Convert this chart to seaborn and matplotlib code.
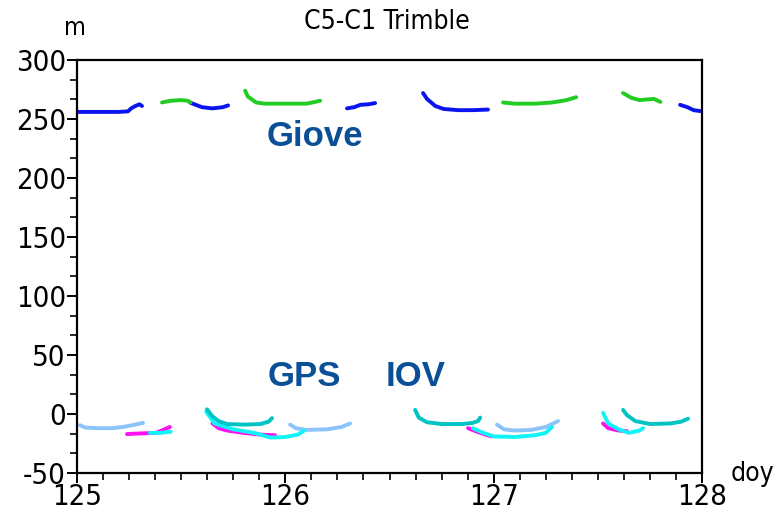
import numpy as np
import pandas as pd
import matplotlib
matplotlib.use("Agg")
import matplotlib.pyplot as plt
import seaborn as sns
from matplotlib.ticker import MultipleLocator

# ---------------- data (doy, metres, segment id) ----------------
giove_blue_doy = [125.0, 125.2, 125.245, 125.26, 125.28, 125.30, 125.312,
                  125.542, 125.57, 125.60, 125.65, 125.70, 125.725,
                  126.296, 126.33, 126.36, 126.40, 126.431,
                  126.661, 126.68, 126.72, 126.76, 126.83, 126.90, 126.973,
                  127.895, 127.93, 127.96, 128.0]
giove_blue_m = [256, 256, 256.5, 259, 261, 262.5, 261,
                264, 262, 260, 259, 260, 261.5,
                259, 260, 262, 262.5, 263.5,
                272, 267, 261, 258.5, 257.5, 257.5, 258,
                262, 260, 257.5, 256.5]
giove_blue_seg = [0]*7 + [1]*6 + [2]*5 + [3]*7 + [4]*4

giove_green_doy = [125.408, 125.45, 125.50, 125.53, 125.545,
                   125.807, 125.82, 125.86, 125.90, 126.0, 126.10, 126.13, 126.167,
                   127.045, 127.10, 127.20, 127.28, 127.35, 127.396,
                   127.621, 127.66, 127.70, 127.73, 127.77, 127.80]
giove_green_m = [264, 265.5, 266, 265.5, 264,
                 274, 269, 264, 263, 263, 263, 264, 265.5,
                 264, 263, 263, 264, 266, 268.5,
                 272, 268, 266, 266.5, 267, 264.5]
giove_green_seg = [0]*5 + [1]*8 + [2]*6 + [3]*6

gps_lightblue_doy = [125.014, 125.04, 125.10, 125.17, 125.22, 125.28, 125.317,
                     126.023, 126.05, 126.10, 126.20, 126.27, 126.311,
                     127.016, 127.05, 127.10, 127.18, 127.25, 127.309]
gps_lightblue_m = [-9.5, -11.5, -12, -12, -11, -9, -7.5,
                   -9, -12, -13.5, -13, -11, -8,
                   -9, -13, -14, -13.5, -11, -6]
gps_lightblue_seg = [0]*7 + [1]*6 + [2]*6

gps_magenta_doy = [125.24, 125.30, 125.38, 125.42, 125.446,
                   125.65, 125.68, 125.72, 125.80, 125.88, 125.951,
                   126.877, 126.92, 126.96, 126.99,
                   127.525, 127.55, 127.60, 127.64]
gps_magenta_m = [-17, -16.5, -16, -13, -11,
                 -8, -12, -14, -16, -17.5, -18,
                 -12, -15, -17.5, -19,
                 -8, -12, -14, -14.5]
gps_magenta_seg = [0]*5 + [1]*6 + [2]*4 + [3]*4

iov_cyan_doy = [125.35, 125.40, 125.45,
                125.62, 125.66, 125.75, 125.85, 125.93, 126.0, 126.06, 126.09,
                126.90, 126.95, 127.0, 127.10, 127.20, 127.25, 127.28,
                127.525, 127.55, 127.60, 127.65, 127.70, 127.717]
iov_cyan_m = [-16, -16, -15,
              2, -8, -13, -16, -20, -19.5, -17.5, -14,
              -12, -16, -19, -19.5, -18, -16, -11,
              1, -8, -13, -16, -14, -12]
iov_cyan_seg = [0]*3 + [1]*8 + [2]*7 + [3]*6

iov_teal_doy = [125.624, 125.65, 125.68, 125.72, 125.80, 125.88, 125.92, 125.936,
                126.623, 126.64, 126.68, 126.75, 126.85, 126.90, 126.925, 126.935,
                127.621, 127.64, 127.68, 127.75, 127.85, 127.90, 127.933]
iov_teal_m = [4, -2, -6, -8.5, -9, -8.5, -6.5, -3.5,
              3.5, -3, -7, -8.5, -8.5, -7.5, -6, -3,
              3.5, -1, -6, -8.5, -8, -6.5, -4]
iov_teal_seg = [0]*8 + [1]*8 + [2]*7

x_ticks = [125, 126, 127, 128]
y_ticks = [-50, 0, 50, 100, 150, 200, 250, 300]

groups = [
    ("giove_blue", giove_blue_doy, giove_blue_m, giove_blue_seg, "#0a14f0"),
    ("giove_green", giove_green_doy, giove_green_m, giove_green_seg, "#22cc22"),
    ("gps_lightblue", gps_lightblue_doy, gps_lightblue_m, gps_lightblue_seg, "#8cc4fa"),
    ("gps_magenta", gps_magenta_doy, gps_magenta_m, gps_magenta_seg, "#ff10f0"),
    ("iov_cyan", iov_cyan_doy, iov_cyan_m, iov_cyan_seg, "#10f4f8"),
    ("iov_teal", iov_teal_doy, iov_teal_m, iov_teal_seg, "#00c4c4"),
]
frames = []
palette = {}
for name, d, m, s, c in groups:
    frames.append(pd.DataFrame({"doy": d, "m": m,
                                "unit": [f"{name}_{k}" for k in s],
                                "series": name}))
    palette[name] = c
df = pd.concat(frames, ignore_index=True)

# ---------------- figure ----------------
sns.set_style("ticks")
plt.rcParams['font.family'] = ['DejaVu Sans']
plt.rcParams['font.stretch'] = 'condensed'
plt.rcParams['text.color'] = 'black'

fig = plt.figure(figsize=(7.74, 5.13), dpi=100)
ax = fig.add_axes([77/774, 1 - 473/513, (702-77)/774, (473-60)/513])

sns.lineplot(data=df, x="doy", y="m", hue="series", units="unit",
             estimator=None, sort=False, palette=palette, linewidth=2.8,
             legend=False, ax=ax)

ax.set_xlim(125, 128)
ax.set_ylim(-50, 300)
ax.set_xticks(x_ticks)
ax.set_xticklabels([str(t) for t in x_ticks])
ax.set_yticks(y_ticks)
ax.set_yticklabels([str(t) for t in y_ticks])
ax.xaxis.set_minor_locator(MultipleLocator(1/8))
ax.yaxis.set_minor_locator(MultipleLocator(50/3))
ax.set_xlabel("")
ax.set_ylabel("")

for sp in ax.spines.values():
    sp.set_visible(True)
    sp.set_linewidth(1.6)
    sp.set_color("black")

ax.tick_params(axis="both", which="major", direction="out", length=7, width=1.4,
               labelsize=21, colors="black", pad=1)
ax.tick_params(axis="both", which="minor", direction="out", length=5, width=1.4)
ax.tick_params(axis="x", which="major", pad=0)

fig.text(387/774, 1 - 22/513, "C5-C1 Trimble", ha="center", va="center",
         fontsize=19, color="black")
fig.text(75/774, 1 - 28/513, "m", ha="center", va="center", fontsize=18, color="black")
fig.text(752/774, 1 - 474/513, "doy", ha="center", va="center", fontsize=19, color="black")

txt_color = "#0b5096"
for label, xx, yy in [("Giove", 126.143, 235.5), ("GPS", 126.09, 32), ("IOV", 126.627, 32)]:
    ax.text(xx, yy, label, ha="center", va="center", fontsize=25,
            fontweight="bold", fontstretch="normal", color=txt_color,
            family=["Liberation Sans", "DejaVu Sans"])

fig.savefig("out.png", dpi=100)
